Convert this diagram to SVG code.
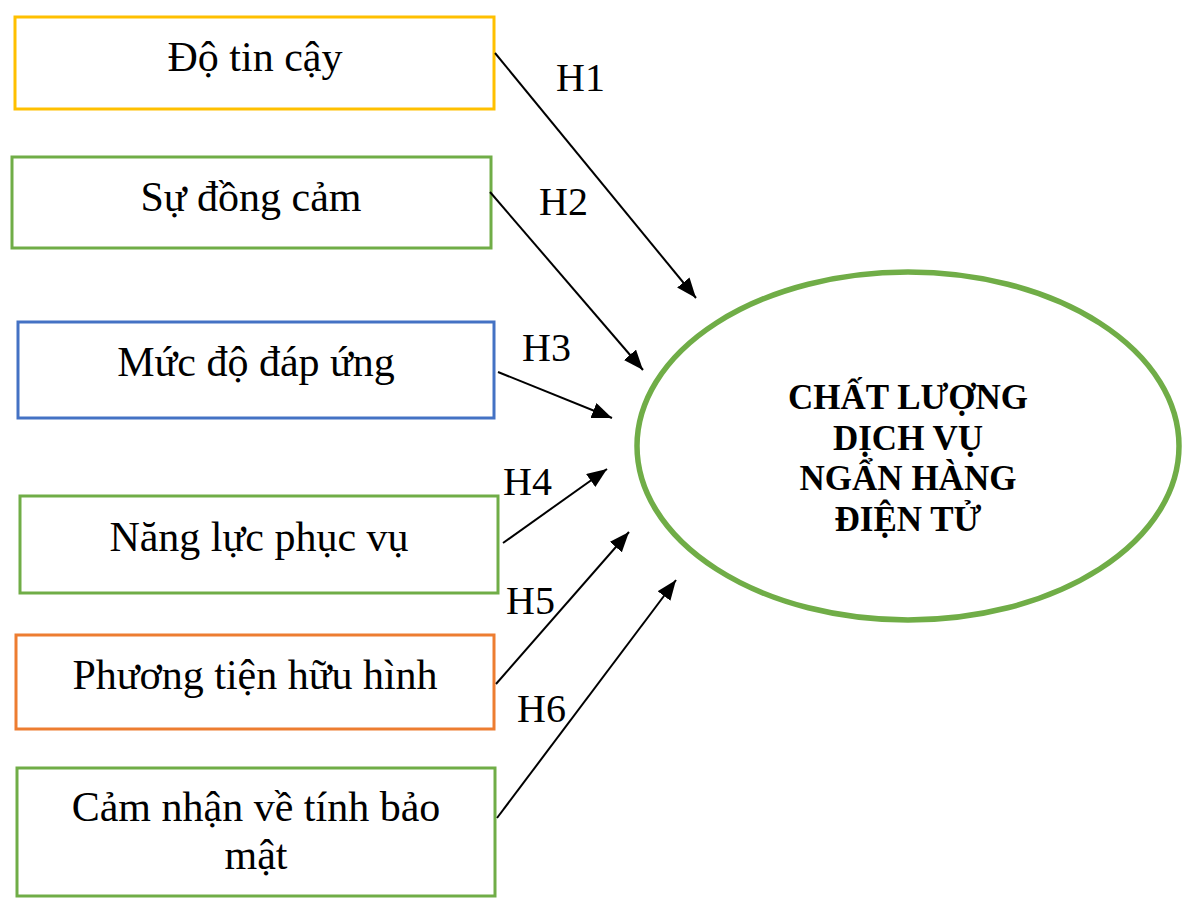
<svg xmlns="http://www.w3.org/2000/svg" width="1200" height="916" viewBox="0 0 1200 916">
<style>
.box{fill:#fff;stroke-width:3}
.t{font-family:"Liberation Serif","Times New Roman",serif;font-size:42px;fill:#000;text-anchor:middle}
.h{font-family:"Liberation Serif","Times New Roman",serif;font-size:40px;fill:#000}
.c{font-family:"Liberation Serif","Times New Roman",serif;font-size:35px;font-weight:bold;fill:#000;text-anchor:middle}
.ln{stroke:#000;stroke-width:2;fill:none;marker-end:url(#ah)}
</style>
<defs>
<marker id="ah" markerUnits="userSpaceOnUse" markerWidth="22" markerHeight="18" refX="20" refY="8" orient="auto">
<path d="M0,0 L20,8 L0,16 Z" fill="#000"/>
</marker>
</defs>
<rect width="1200" height="916" fill="#fff"/>
<g id="n1"><rect class="box" x="15" y="17" width="479" height="92" stroke="#FFC000"/><text class="t" x="255" y="71">Độ tin cậy</text></g>
<g id="n2"><rect class="box" x="12" y="157" width="479" height="91" stroke="#70AD47"/><text class="t" x="251" y="211">Sự đồng cảm</text></g>
<g id="n3"><rect class="box" x="18" y="322" width="476" height="96" stroke="#4472C4"/><text class="t" x="256" y="376">Mức độ đáp ứng</text></g>
<g id="n4"><rect class="box" x="20" y="496" width="478" height="97" stroke="#70AD47"/><text class="t" x="259" y="551">Năng lực phục vụ</text></g>
<g id="n5"><rect class="box" x="16" y="635" width="478" height="94" stroke="#ED7D31"/><text class="t" x="255" y="689">Phương tiện hữu hình</text></g>
<g id="n6"><rect class="box" x="17" y="768" width="478" height="128" stroke="#70AD47"/><text class="t" x="256" y="821">Cảm nhận về tính bảo</text><text class="t" x="256" y="869">mật</text></g>
<g id="center"><ellipse cx="908" cy="446" rx="271" ry="174" fill="#fff" stroke="#70AD47" stroke-width="5.5"/>
<text class="c" x="908" y="409">CHẤT LƯỢNG</text>
<text class="c" x="908" y="450">DỊCH VỤ</text>
<text class="c" x="908" y="490">NGẨN HÀNG</text>
<text class="c" x="908" y="531">ĐIỆN TỬ</text></g>
<g id="connectors">
<line class="ln" x1="495" y1="53" x2="696" y2="298"/>
<line class="ln" x1="490" y1="192" x2="643" y2="370"/>
<line class="ln" x1="498" y1="372" x2="612" y2="418"/>
<line class="ln" x1="503" y1="543" x2="607" y2="469"/>
<line class="ln" x1="496" y1="684" x2="629" y2="532"/>
<line class="ln" x1="497" y1="818" x2="676" y2="580"/>
<text class="h" x="556" y="91">H1</text>
<text class="h" x="539" y="215">H2</text>
<text class="h" x="522" y="361">H3</text>
<text class="h" x="503" y="495">H4</text>
<text class="h" x="506" y="614">H5</text>
<text class="h" x="517" y="722">H6</text>
</g>
</svg>
